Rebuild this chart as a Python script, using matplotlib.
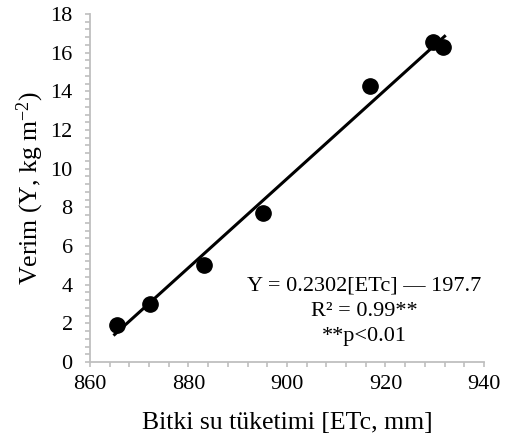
import matplotlib.pyplot as plt
import numpy as np
from matplotlib.ticker import MultipleLocator

plt.rcParams["font.family"] = ["Liberation Serif", "DejaVu Serif"]
plt.rcParams["mathtext.fontset"] = "custom"
plt.rcParams["mathtext.rm"] = "Liberation Serif"
plt.rcParams["mathtext.it"] = "Liberation Serif:italic"

etc = [865.5, 872.2, 883.2, 895.2, 916.9, 929.7, 931.7]
yield_y = [1.9, 3.0, 5.0, 7.7, 14.3, 16.55, 16.3]

# Regression
slope = 0.2302
intercept = -197.7
fit_x = [865, 932]

fig = plt.figure(figsize=(5.07, 4.43), dpi=100)
ax = fig.add_axes([0.1775, 0.1828, 0.7771, 0.7856])

fx = np.array(fit_x)
ax.plot(fx, slope * fx + intercept, color="black", linewidth=2.2, zorder=2)
ax.plot(etc, yield_y, "o", color="black", markersize=11, zorder=3)

ax.set_xlim(860, 940)
ax.set_ylim(0, 18)
ax.xaxis.set_major_locator(MultipleLocator(20))
ax.xaxis.set_minor_locator(MultipleLocator(4))
ax.yaxis.set_major_locator(MultipleLocator(2))
ax.yaxis.set_minor_locator(MultipleLocator(0.4))

grey = "#bfbfbf"
for side in ["top", "right"]:
    ax.spines[side].set_visible(False)
for side in ["left", "bottom"]:
    ax.spines[side].set_color(grey)
    ax.spines[side].set_linewidth(1.3)
ax.tick_params(which="both", direction="out", length=3.5, width=1.2, color=grey,
               labelsize=16)
ax.tick_params(axis="x", pad=6)
ax.tick_params(axis="y", pad=9)

ax.set_xlabel("Bitki su tüketimi [ETc, mm]", fontsize=18.5, labelpad=13)
ax.set_ylabel("Verim (Y, kg m$^{-2}$)", fontsize=18.5, labelpad=3)

ax.text(0.697, 0.145, "Y = 0.2302[ETc] \u2014 197.7\nR\u00b2 = 0.99**\n**p<0.01",
        transform=ax.transAxes, ha="center", va="center", fontsize=16,
        linespacing=1.45)

fig.savefig("out.png", dpi=100)
